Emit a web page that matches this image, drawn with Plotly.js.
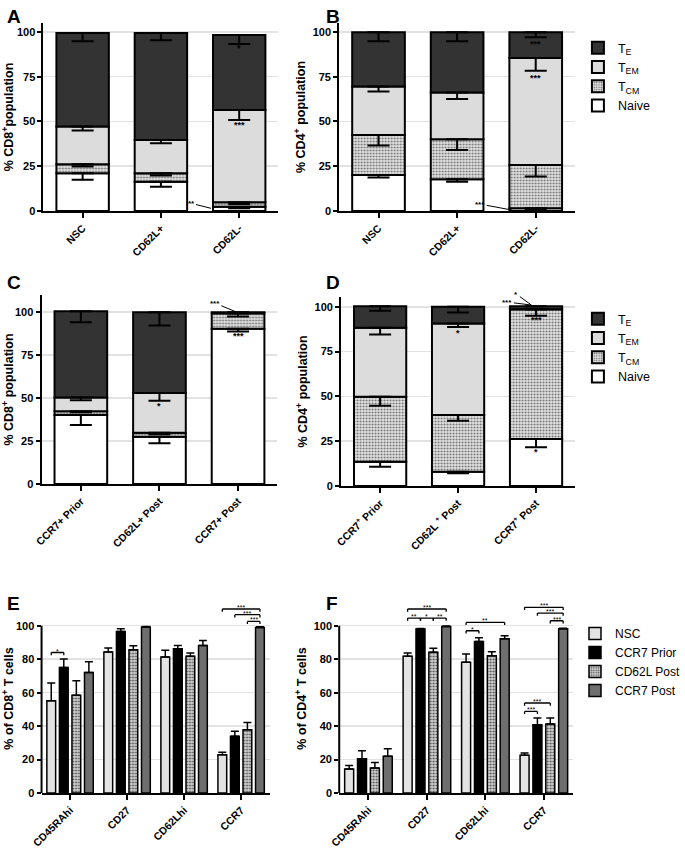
<!DOCTYPE html>
<html><head><meta charset="utf-8">
<script src="https://cdn.plot.ly/plotly-3.0.1.min.js"></script>
<style>html,body{margin:0;padding:0;background:#fff}#chart{width:685px;height:853px}</style>
</head><body><div id="chart"></div>
<script>
// ---------- DATA ----------
const catsAB = ['NSC','CD62L+','CD62L-'];
const catsC  = ['CCR7+ Prior','CD62L+ Post','CCR7+ Post'];
const catsD  = ['CCR7<sup>+</sup> Prior','CD62L <sup>+</sup> Post','CCR7<sup>+</sup> Post'];
const subsetNames = ['Naive','T<sub>CM</sub>','T<sub>EM</sub>','T<sub>E</sub>'];

// Panel A (CD8+) segment sizes (%) and SEM
const A_naive=[21.1,16.4,2.4],  A_tcm=[5.0,4.7,2.5],   A_tem=[21.1,18.6,51.5], A_te=[52.2,59.7,41.9];
const A_naive_e=[3.7,2.8,0.9],  A_tcm_e=[1.3,1.3,1.0], A_tem_e=[2.2,1.8,5.6],  A_te_e=[4.6,4.1,5.0];
// Panel B (CD4+)
const B_naive=[20.1,17.7,1.5],  B_tcm=[22.4,22.4,24.2], B_tem=[27.1,26.1,59.7], B_te=[30.2,33.6,14.4];
const B_naive_e=[1.4,1.3,1.0],  B_tcm_e=[5.9,6.0,6.5],  B_tem_e=[2.8,3.7,7.0],  B_te_e=[5.0,5.0,2.8];
// Panel C (CD8+)
const C_naive=[40.1,27.5,90.3], C_tcm=[2.3,2.3,9.1],    C_tem=[8.0,23.2,0],     C_te=[50.2,47.0,0.6];
const C_naive_e=[5.8,3.8,1.5],  C_tcm_e=[0.7,0.9,1.9],  C_tem_e=[1.6,4.6,0],    C_te_e=[6.4,7.7,0];
// Panel D (CD4+)
const D_naive=[13.6,8.0,26.2],  D_tcm=[36.2,31.6,72.5], D_tem=[38.5,51.1,0],    D_te=[12.1,9.3,1.7];
const D_naive_e=[2.8,0.9,4.6],  D_tcm_e=[5.0,3.2,3.6],  D_tem_e=[3.7,1.9,0],    D_te_e=[2.6,3.2,0];

// Panels E/F
const markers = ['CD45RAhi','CD27','CD62Lhi','CCR7'];
const groups  = ['NSC','CCR7 Prior','CD62L Post','CCR7 Post'];
const E_nsc=[55.2,84.3,81.3,22.9],   E_nsc_e=[10.5,2.4,4.0,1.4];
const E_prior=[75.1,96.6,86.3,33.9], E_prior_e=[5.0,1.6,1.9,3.0];
const E_l62=[58.4,85.7,81.7,37.8],   E_l62_e=[8.7,2.3,2.0,4.4];
const E_post=[72.1,99.2,88.2,99.0],  E_post_e=[6.4,0.4,3.0,0.4];
const F_nsc=[14.3,81.7,78.1,22.5],   F_nsc_e=[2.2,2.0,5.0,1.4];
const F_prior=[20.5,98.0,90.6,40.8], F_prior_e=[4.8,0.4,2.2,4.0];
const F_l62=[14.9,84.1,82.1,41.2],   F_l62_e=[3.4,2.4,2.4,3.6];
const F_post=[21.9,99.6,92.2,98.2],  F_post_e=[4.6,0.2,1.8,0.3];

// ---------- BUILD ----------
const W=685,H=853;
const FONT='Liberation Sans, Arial, Helvetica, sans-serif';
function dom(x0,x1,y0,y1){return {x:[x0/W,x1/W], y:[1-y1/H,1-y0/H]};}

const segStyle = [
  {color:'#ffffff'},
  {color:'#d0d0d0', pattern:{shape:'.', bgcolor:'#e4e4e4', fgcolor:'#707070', size:3, solidity:0.35}},
  {color:'#dcdcdc'},
  {color:'#333333'}
];

const traces=[];
function stacked(xa,ya,cats,segs,errs,legendName){
  let base=cats.map(()=>0);
  segs.forEach((vals,k)=>{
    const m={color:segStyle[k].color, line:{color:'#000',width:2}};
    if(segStyle[k].pattern) m.pattern=segStyle[k].pattern;
    const t={type:'bar', x:cats, y:vals, base:base.slice(), width:0.67, xaxis:xa, yaxis:ya,
      marker:m, name:subsetNames[k], hoverinfo:'skip', showlegend:!!legendName};
    if(legendName) t.legend=legendName;
    traces.push(t);
    const tops=base.map((b,i)=>b+vals[i]);
    traces.push({type:'scatter', mode:'markers', x:cats, y:tops, xaxis:xa, yaxis:ya,
      marker:{size:1,color:'rgba(0,0,0,0)'}, showlegend:false, hoverinfo:'skip',
      error_y:{type:'data', symmetric:false, array:cats.map(()=>0), arrayminus:errs[k],
        width:11, thickness:2, color:'#000'}});
    base=tops;
  });
}
stacked('x','y',catsAB,[A_naive,A_tcm,A_tem,A_te],[A_naive_e,A_tcm_e,A_tem_e,A_te_e],null);
stacked('x2','y2',catsAB,[B_naive,B_tcm,B_tem,B_te],[B_naive_e,B_tcm_e,B_tem_e,B_te_e],'legend');
stacked('x3','y3',catsC,[C_naive,C_tcm,C_tem,C_te],[C_naive_e,C_tcm_e,C_tem_e,C_te_e],null);
stacked('x4','y4',catsD,[D_naive,D_tcm,D_tem,D_te],[D_naive_e,D_tcm_e,D_tem_e,D_te_e],'legend2');

// grouped bars
const BARGAP=0.12, GROUPGAP=0.3, NG=4;
const slotW=(1-BARGAP)/NG, barW=slotW*(1-GROUPGAP);
function center(i){return -(1-BARGAP)/2 + slotW*(i+0.5);}
const grpStyle=[
  {color:'#e3e3e3'},
  {color:'#000000'},
  {color:'#b8b8b8', pattern:{shape:'.', bgcolor:'#d6d6d6', fgcolor:'#505050', size:3, solidity:0.4}},
  {color:'#6e6e6e'}
];
function grouped(xa,ya,series,errs,legendName){
  series.forEach((vals,i)=>{
    const m={color:grpStyle[i].color, line:{color:'#000',width:1.5}};
    if(grpStyle[i].pattern) m.pattern=grpStyle[i].pattern;
    const t={type:'bar', x:markers, y:vals, width:barW, offset:center(i)-barW/2, xaxis:xa, yaxis:ya,
      marker:m, name:groups[i], hoverinfo:'skip', showlegend:!!legendName,
      error_y:{type:'data', symmetric:false, array:errs[i], arrayminus:vals.map(()=>0), width:4, thickness:1.5, color:'#000'}};
    if(legendName) t.legend=legendName;
    traces.push(t);
  });
}
grouped('x5','y5',[E_nsc,E_prior,E_l62,E_post],[E_nsc_e,E_prior_e,E_l62_e,E_post_e],null);
grouped('x6','y6',[F_nsc,F_prior,F_l62,F_post],[F_nsc_e,F_prior_e,F_l62_e,F_post_e],'legend3');

// axes
const P={A:dom(45,288,23,211),B:dom(351,595,23,211),C:dom(43,287,295,484),D:dom(353,595,297,486),E:dom(43,279,604,793),F:dom(351,593,604,793)};
function xax(d,n){return {domain:d.x, anchor:'y'+n, type:'category', range:[-0.5,n>4?3.5:2.5], showline:true, linewidth:2, linecolor:'#000',
  ticks:'outside', ticklen:5, tickwidth:2, tickcolor:'#000', tickangle:-45, showgrid:false, zeroline:false,
  tickfont:{family:FONT,size:10.5,weight:'bold',color:'#000'}, fixedrange:true};}
function yax(d,n,range,dtick,title,line){return {domain:d.y, anchor:'x'+n, range:range, tickmode:'linear', tick0:0, dtick:dtick,
  showline:line, linewidth:2, linecolor:'#000', ticks:'outside', ticklen:4, tickwidth:2, tickcolor:'#000',
  showgrid:true, gridcolor:'#e2e2e2', gridwidth:1.5, zeroline:false,
  tickfont:{family:FONT,size:11,weight:'bold',color:'#000'},
  title:{text:title, font:{family:FONT,size:12.5,weight:'bold',color:'#000'}, standoff:4}, fixedrange:true};}

const layout={width:W,height:H,margin:{l:0,r:0,t:0,b:0},paper_bgcolor:'#fff',plot_bgcolor:'rgba(0,0,0,0)',
  barmode:'overlay', font:{family:FONT,color:'#000'},
  xaxis:xax(P.A,1), yaxis:yax(P.A,1,[0,105],25,'% CD8<sup>+</sup>population',true),
  xaxis2:xax(P.B,2), yaxis2:yax(P.B,2,[0,105],25,'% CD4<sup>+</sup> population',true),
  xaxis3:xax(P.C,3), yaxis3:yax(P.C,3,[0,110],25,'% CD8<sup>+</sup> population',true),
  xaxis4:xax(P.D,4), yaxis4:yax(P.D,4,[0,105.5],25,'% CD4<sup>+</sup> population',true),
  xaxis5:xax(P.E,5), yaxis5:yax(P.E,5,[0,113],20,'% of CD8<sup>+</sup> T cells',false),
  xaxis6:xax(P.F,6), yaxis6:yax(P.F,6,[0,113],20,'% of CD4<sup>+</sup> T cells',false),
  legend:{x:598/W,y:1-33/H,xanchor:'left',yanchor:'top',traceorder:'reversed',font:{family:FONT,size:12.5},bgcolor:'rgba(0,0,0,0)',tracegroupgap:0},
  legend2:{x:598/W,y:1-304/H,xanchor:'left',yanchor:'top',traceorder:'reversed',font:{family:FONT,size:12.5},bgcolor:'rgba(0,0,0,0)',tracegroupgap:0},
  legend3:{x:595/W,y:1-619/H,xanchor:'left',yanchor:'top',traceorder:'normal',font:{family:FONT,size:12},bgcolor:'rgba(0,0,0,0)',tracegroupgap:0},
  annotations:[], shapes:[]
};

// panel letters
[['A',5,4],['B',335,4],['C',5,270],['D',335,270],['E',5,591],['F',335,591]].forEach(([t,x,y])=>{
  layout.annotations.push({text:'<b>'+t+'</b>',xref:'paper',yref:'paper',x:x/W,y:1-y/H,xanchor:'left',yanchor:'top',showarrow:false,font:{family:FONT,size:19,color:'#000'}});
});

// y axis lines (0-100) for E/F
['5','6'].forEach(n=>{
  layout.shapes.push({type:'line',xref:'x'+n+' domain',yref:'y'+n,x0:0,x1:0,y0:0,y1:100,line:{color:'#000',width:2}});
});

// significance stars in stacked panels
function star(xa,ya,x,y,t){layout.annotations.push({xref:xa,yref:ya,x:x,y:y,text:'<b>'+t+'</b>',showarrow:false,yanchor:'middle',font:{family:FONT,size:9,color:'#000'}});}
function lead(xa,ya,x,y,t,ax,ay){layout.annotations.push({xref:xa,yref:ya,x:x,y:y,text:'<b>'+t+'</b>',showarrow:true,arrowhead:0,arrowwidth:1,arrowcolor:'#000',ax:ax,ay:ay,standoff:0,startstandoff:0,font:{family:FONT,size:8,color:'#000'}});}
star('x','y',2,91,'*'); star('x','y',2,48,'***'); lead('x','y',1.64,1.5,'**',-20,-5);
star('x2','y2',2,93.5,'***'); star('x2','y2',2,74,'***'); lead('x2','y2',1.7,0.5,'***',-32,-6);
star('x3','y3',1,45.5,'*'); star('x3','y3',2,86,'***'); lead('x3','y3',2.01,99.5,'***',-24,-10);
star('x4','y4',1,85.5,'*'); star('x4','y4',2,19,'*'); star('x4','y4',2,92.5,'***');
lead('x4','y4',1.94,101,'*',-15,-11); lead('x4','y4',1.94,101,'***',-24,-3);

// brackets in grouped panels
function bracket(n,g,i1,i2,y,t){
  const x1=g+center(i1), x2=g+center(i2), d=1.6, xa='x'+n, ya='y'+n, ln={color:'#000',width:1.3};
  layout.shapes.push({type:'line',xref:xa,yref:ya,x0:x1,x1:x2,y0:y,y1:y,line:ln});
  layout.shapes.push({type:'line',xref:xa,yref:ya,x0:x1,x1:x1,y0:y-d,y1:y,line:ln});
  layout.shapes.push({type:'line',xref:xa,yref:ya,x0:x2,x1:x2,y0:y-d,y1:y,line:ln});
  layout.annotations.push({xref:xa,yref:ya,x:(x1+x2)/2,y:y,text:t,showarrow:false,yanchor:'bottom',yshift:-4,font:{family:FONT,size:7,color:'#000'}});
}
bracket(5,0,0,1,84,'*');
bracket(5,3,0,3,110,'***'); bracket(5,3,1,3,106.6,'***'); bracket(5,3,2,3,102.6,'***');
bracket(6,1,0,3,110,'***'); bracket(6,1,0,1,104.6,'**'); bracket(6,1,1,2,104.6,'*'); bracket(6,1,2,3,104.6,'**');
bracket(6,2,0,1,97,'*'); bracket(6,2,0,3,102,'**');
bracket(6,3,0,3,111,'***'); bracket(6,3,1,3,107.6,'***'); bracket(6,3,2,3,103,'***');
bracket(6,3,0,1,48.8,'***'); bracket(6,3,0,2,53.8,'***');

Plotly.newPlot('chart',traces,layout,{staticPlot:true,displayModeBar:false});
</script></body></html>
